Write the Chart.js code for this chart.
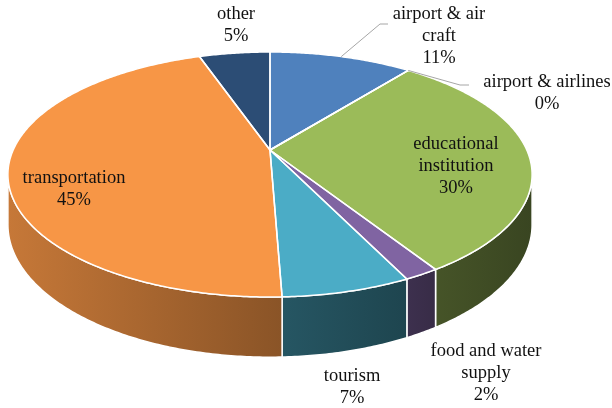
<!DOCTYPE html>
<html>
<head>
<meta charset="utf-8">
<script src="https://cdn.jsdelivr.net/npm/chart.js@4.4.1/dist/chart.umd.min.js"></script>
<style>
  html, body { margin: 0; padding: 0; background: #ffffff; }
  canvas { display: block; }
</style>
</head>
<body>
<canvas id="chart" width="612" height="408"></canvas>
<script>
// Share of each sector (percent)
const categories = ['airport & air craft', 'airport & airlines', 'educational institution',
                    'food and water supply', 'tourism', 'transportation', 'other'];
const shares = [10.7, 0, 30.3, 1.8, 6.6, 45.3, 5.3];
const sliceColors = ['#4f81bd', '#c0504d', '#9bbb59', '#8064a2', '#4bacc6', '#f79646', '#2c4d75'];
// Darkening of each slice's side wall, left end and right end
const wallShade = [[0.6, 0.5], [0.6, 0.5], [0.45, 0.37], [0.48, 0.44], [0.50, 0.40], [0.80, 0.56], [0.6, 0.5]];

// How each category name is broken over lines in its label
const labelLines = [['airport & air', 'craft'], ['airport & airlines'], ['educational', 'institution'],
                    ['food and water', 'supply'], ['tourism'], ['transportation'], ['other']];
// Centre of the first line of each label
const labelAnchors = [[439, 14], [547, 82], [456, 144], [486, 351], [352, 376], [74, 178], [236, 14]];
// Leader lines: elbow and end point, starting from the slice's rim
const leaders = { 0: [[380, 24], [388, 24]], 1: [[460, 85], [469, 85]] };

// 3D view of the pie, relative to the radius Chart.js computes
const view = { sx: 1.712, sy: 0.784, depth: 0.321, persp: 0.2 };

function shade(hex, f) {
  const n = parseInt(hex.slice(1), 16);
  const r = Math.round(((n >> 16) & 255) * f), g = Math.round(((n >> 8) & 255) * f), b = Math.round((n & 255) * f);
  return `rgb(${r},${g},${b})`;
}

const pie3d = {
  id: 'pie3d',
  beforeDatasetsDraw(chart) {
    const ctx = chart.ctx;
    const arcs = chart.getDatasetMeta(0).data;
    const cx = arcs[0].x, cy = arcs[0].y, R = arcs[0].outerRadius;
    const A = R * view.sx, B = R * view.sy, C = R * view.depth, p = view.persp;
    const proj = (ang, r, z) => {
      const u = r * Math.cos(ang), v = -r * Math.sin(ang), d = 1 + p * v;
      return [cx + A * u / d, cy + (-B * v + C * z) / d];
    };
    const rimPath = (s, e, z, reverse) => {
      const n = Math.max(2, Math.ceil((e - s) / 0.01));
      const pts = [];
      for (let i = 0; i <= n; i++) pts.push(proj(s + (e - s) * i / n, 1, z));
      return reverse ? pts.reverse() : pts;
    };
    chart.$proj = proj;

    // outer wall, visible between the two silhouette points
    const th0 = Math.asin(p);
    ctx.save();
    ctx.lineJoin = 'round';
    arcs.forEach((arc, i) => {
      const s = Math.max(arc.startAngle, th0), e = Math.min(arc.endAngle, Math.PI - th0);
      if (e <= s) return;
      const pts = rimPath(s, e, 0, false).concat(rimPath(s, e, 1, true));
      const xs = pts.map(q => q[0]);
      const x0 = Math.min(...xs), x1 = Math.max(...xs);
      const grad = ctx.createLinearGradient(x0, 0, x1, 0);
      grad.addColorStop(0, shade(sliceColors[i], wallShade[i][0]));
      grad.addColorStop(1, shade(sliceColors[i], wallShade[i][1]));
      ctx.beginPath();
      pts.forEach((q, j) => j ? ctx.lineTo(q[0], q[1]) : ctx.moveTo(q[0], q[1]));
      ctx.closePath();
      ctx.fillStyle = grad;
      ctx.fill();
      ctx.strokeStyle = '#ffffff';
      ctx.lineWidth = 1.5;
      ctx.stroke();
    });

    // top face
    arcs.forEach((arc, i) => {
      const pts = rimPath(arc.startAngle, arc.endAngle, 0, false);
      ctx.beginPath();
      ctx.moveTo(cx, cy);
      pts.forEach(q => ctx.lineTo(q[0], q[1]));
      ctx.closePath();
      ctx.fillStyle = sliceColors[i];
      ctx.fill();
    });
    arcs.forEach((arc) => {
      const pts = rimPath(arc.startAngle, arc.endAngle, 0, false);
      ctx.beginPath();
      ctx.moveTo(cx, cy);
      pts.forEach(q => ctx.lineTo(q[0], q[1]));
      ctx.closePath();
      ctx.strokeStyle = '#ffffff';
      ctx.lineWidth = 1.5;
      ctx.stroke();
    });
    ctx.restore();
    return false;
  },
  afterDraw(chart) {
    const ctx = chart.ctx;
    const arcs = chart.getDatasetMeta(0).data;
    const total = shares.reduce((s, v) => s + v, 0);
    ctx.save();
    // leader lines
    ctx.strokeStyle = '#a6a6a6';
    ctx.lineWidth = 1;
    Object.keys(leaders).forEach(k => {
      const arc = arcs[k];
      const start = chart.$proj((arc.startAngle + arc.endAngle) / 2, 1, 0);
      ctx.beginPath();
      ctx.moveTo(start[0], start[1]);
      leaders[k].forEach(q => ctx.lineTo(q[0], q[1]));
      ctx.stroke();
    });
    // labels
    ctx.fillStyle = '#111111';
    ctx.font = "18.5px 'Liberation Serif'";
    ctx.textAlign = 'center';
    ctx.textBaseline = 'middle';
    categories.forEach((c, i) => {
      const lines = labelLines[i].concat([Math.round(shares[i] / total * 100) + '%']);
      lines.forEach((t, j) => ctx.fillText(t, labelAnchors[i][0], labelAnchors[i][1] + j * 22.3));
    });
    ctx.restore();
  }
};

new Chart(document.getElementById('chart'), {
  type: 'pie',
  data: {
    labels: categories,
    datasets: [{ data: shares, backgroundColor: sliceColors, borderWidth: 0 }]
  },
  options: {
    responsive: false,
    animation: false,
    layout: { padding: { left: 0, top: 0, right: 72, bottom: 108 } },
    plugins: { legend: { display: false }, tooltip: { enabled: false } }
  },
  plugins: [pie3d]
});
</script>
</body>
</html>
